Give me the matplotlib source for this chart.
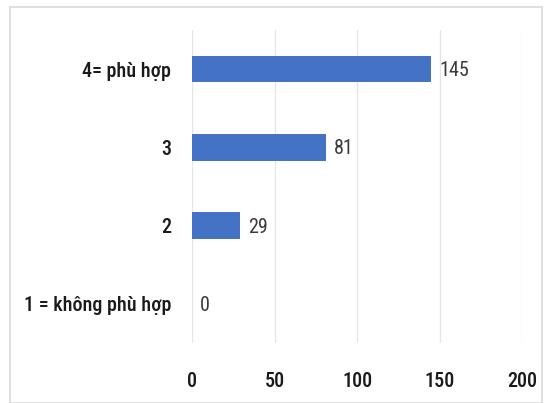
import matplotlib.pyplot as plt
from matplotlib.patches import Rectangle

# data (bottom to top)
categories = ["1 = không phù hợp", "2", "3", "4= phù hợp"]
counts = [0, 29, 81, 145]
x_ticks = [0, 50, 100, 150, 200]

plt.rcParams['font.family'] = ['Roboto Condensed', 'DejaVu Sans']

W, H = 548, 403
fig = plt.figure(figsize=(W / 100, H / 100), dpi=100)
fig.patch.set_facecolor("white")

# light frame round the chart area, like the Excel chart border
fig.add_artist(Rectangle((10 / W, 0), (542 - 10) / W, (H - 7) / H,
                         transform=fig.transFigure, fill=False,
                         edgecolor="#d9d9d9", linewidth=1.2))

# plot area in pixels: x 192..522, y 30..343
ax = fig.add_axes([192 / W, 1 - 343 / H, (522 - 192) / W, (343 - 30) / H])

ypos = list(range(len(categories)))
bars = ax.barh(ypos, counts, height=0.34, color="#4472C4", zorder=3)

ax.set_xlim(0, 200)
ax.set_ylim(-0.5, len(categories) - 0.5)
ax.set_xticks(x_ticks)
ax.set_xticklabels([str(t) for t in x_ticks])
ax.set_yticks(ypos)
ax.set_yticklabels(categories)

ax.tick_params(axis="x", length=0, pad=21, labelsize=14.5, labelcolor="#1a1a1a")
ax.tick_params(axis="y", length=0, pad=15, labelsize=14.5, labelcolor="#1a1a1a")
for lab in ax.get_xticklabels() + ax.get_yticklabels():
    lab.set_fontweight(500)

ax.grid(axis="x", color="#e6e6e6", linewidth=1, zorder=0)
for s in ax.spines.values():
    s.set_visible(False)

for b, v in zip(bars, counts):
    ax.annotate(str(v), (b.get_width(), b.get_y() + b.get_height() / 2),
                xytext=(6, -1), textcoords="offset points",
                ha="left", va="center", fontsize=14.5, color="#3a3a3a")

fig.savefig("out.png", dpi=100)
